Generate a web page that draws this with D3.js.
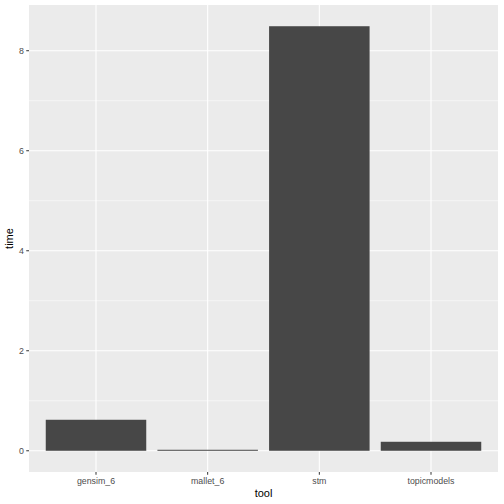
<!DOCTYPE html>
<html><head><meta charset="utf-8">
<script src="https://cdn.jsdelivr.net/npm/d3@7"></script>
<style>body{margin:0;background:#fff}svg{display:block}text{font-family:"Liberation Sans",Arial,Helvetica,sans-serif}</style>
</head><body>
<script>
const tools = ["gensim_6", "mallet_6", "stm", "topicmodels"];
const times = [0.62, 0.02, 8.49, 0.18];
const yTicks = [0, 2, 4, 6, 8];
const yMinor = [1, 3, 5, 7];

const W = 504, H = 504;
const panel = {left: 29, right: 498, top: 5, bottom: 472};
const svg = d3.select("body").append("svg").attr("width", W).attr("height", H);

const ymax = d3.max(times), pad = ymax * 0.05;
const y = d3.scaleLinear().domain([0 - pad, ymax + pad]).range([panel.bottom, panel.top]);
// ggplot discrete: width 0.9, expand 0.6 each side
const x = d3.scaleBand().domain(tools).range([panel.left, panel.right]).paddingInner(0.1).paddingOuter(0.15);
const cx = t => x(t) + x.bandwidth() / 2;

svg.append("rect").attr("x", panel.left).attr("y", panel.top)
  .attr("width", panel.right - panel.left).attr("height", panel.bottom - panel.top).attr("fill", "#EBEBEB");

svg.append("g").selectAll("line").data(yMinor).join("line")
  .attr("x1", panel.left).attr("x2", panel.right)
  .attr("y1", d => y(d)).attr("y2", d => y(d))
  .attr("stroke", "#fff").attr("stroke-width", 0.55);
svg.append("g").selectAll("line").data(yTicks).join("line")
  .attr("x1", panel.left).attr("x2", panel.right)
  .attr("y1", d => y(d)).attr("y2", d => y(d))
  .attr("stroke", "#fff").attr("stroke-width", 1.1);
svg.append("g").selectAll("line").data(tools).join("line")
  .attr("x1", d => cx(d)).attr("x2", d => cx(d))
  .attr("y1", panel.top).attr("y2", panel.bottom)
  .attr("stroke", "#fff").attr("stroke-width", 1.1);

svg.append("g").selectAll("rect").data(tools).join("rect")
  .attr("x", d => x(d)).attr("width", x.bandwidth())
  .attr("y", (d, i) => y(times[i])).attr("height", (d, i) => y(0) - y(times[i]))
  .attr("fill", "#474747");

// y axis
const ya = svg.append("g");
ya.selectAll("line").data(yTicks).join("line")
  .attr("x1", panel.left - 2.75).attr("x2", panel.left)
  .attr("y1", d => y(d)).attr("y2", d => y(d)).attr("stroke", "#333").attr("stroke-width", 1);
ya.selectAll("text").data(yTicks).join("text")
  .attr("x", panel.left - 5).attr("y", d => y(d)).attr("dy", "0.35em")
  .attr("text-anchor", "end").attr("font-size", 8.8).attr("fill", "#4D4D4D").text(d => d);

// x axis
const xa = svg.append("g");
xa.selectAll("line").data(tools).join("line")
  .attr("x1", d => cx(d)).attr("x2", d => cx(d))
  .attr("y1", panel.bottom).attr("y2", panel.bottom + 2.75).attr("stroke", "#333").attr("stroke-width", 1);
xa.selectAll("text").data(tools).join("text")
  .attr("x", d => cx(d)).attr("y", panel.bottom + 5).attr("dy", "0.75em")
  .attr("text-anchor", "middle").attr("font-size", 8.8).attr("fill", "#4D4D4D").text(d => d);

svg.append("text").attr("x", (panel.left + panel.right) / 2).attr("y", 497)
  .attr("text-anchor", "middle").attr("font-size", 11).attr("fill", "#000").text("tool");
svg.append("text").attr("transform", `translate(13,${(panel.top + panel.bottom) / 2}) rotate(-90)`)
  .attr("text-anchor", "middle").attr("font-size", 11).attr("fill", "#000").text("time");
</script>
</body></html>
